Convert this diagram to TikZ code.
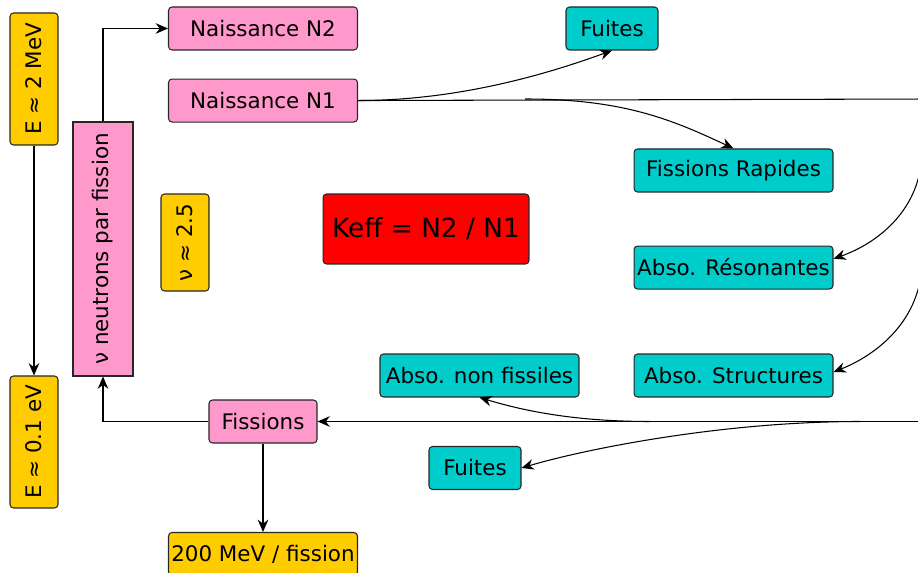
\documentclass[tikz,border=0pt]{standalone}
\usepackage{fontspec}
\setmainfont{DejaVu Sans}
\usetikzlibrary{arrows.meta,positioning}
\definecolor{pinkc}{HTML}{FF99CC}
\definecolor{cyanc}{HTML}{00CCCC}
\definecolor{yellowc}{HTML}{FFCC00}

\begin{document}
\begin{tikzpicture}[
    x=0.02cm, y=-0.02cm,
    every node/.style={draw=black!85, line width=0.6pt, rounded corners=2pt, inner xsep=0.5pt, inner ysep=2pt, font=\fontsize{12.2}{14}\selectfont},
    box/.style={minimum width=3.78cm, minimum height=0.86cm},
    naissance/.style={box, fill=pinkc},
    perte/.style={box, fill=cyanc, minimum width=3.98cm},
    energie/.style={fill=yellowc, minimum width=0.96cm},
    arrow/.style={-{Stealth[length=7pt, width=6pt]}, line width=0.6pt},
    line width=0.6pt
]
\useasboundingbox (0,0) rectangle (918,573);
\clip (0,0) rectangle (918,573);

% Left column: energies and neutrons per fission
\node[energie, minimum height=2.64cm] (E2) at (34,79) {\rotatebox{90}{E ≈ 2 MeV}};
\node[energie, minimum height=2.64cm] (E01) at (34,442) {\rotatebox{90}{E ≈ 0.1 eV}};
\node[fill=pinkc, sharp corners, minimum width=1.2cm, minimum height=5.08cm] (nuN) at (103,249) {\rotatebox{90}{ν neutrons par fission}};
\node[energie, minimum height=1.94cm] (nu) at (185,242.5) {\rotatebox{90}{ν ≈ 2.5}};

% Births and fissions
\node[naissance] (N2) at (263,28.5) {Naissance N2};
\node[naissance, below=0.56cm of N2] (N1) {Naissance N1};
\node[naissance, minimum width=2.16cm] (Fis) at (263,421.5) {Fissions};
\node[box, fill=yellowc] (Emev) at (263,554) {200 MeV / fission};
\node[fill=red, minimum width=4.12cm, minimum height=1.4cm, font=\fontsize{15}{18}\selectfont] (Keff) at (426,229) {Keff = N2 / N1};

% Losses
\node[perte, minimum width=1.84cm] (FuitesH) at (612,28.5) {Fuites};
\node[perte] (FR) at (733.5,170.5) {Fissions Rapides};
\node[perte, below=1.06cm of FR] (AR) {Abso. Résonantes};
\node[perte] (AS) at (733.5,375.5) {Abso. Structures};
\node[perte, left=1.08cm of AS] (ANF) {Abso. non fissiles};
\node[perte, minimum width=1.84cm] (FuitesB) at (475,468) {Fuites};

% Split points of the flow
\coordinate (busH) at (930,99);
\coordinate (splitF) at (525,99);
\coordinate (busR1) at (922,150);
\coordinate (busR2) at (922,260);
\coordinate (busB) at (930,421.5);
\coordinate (splitA) at (650,421.5);
\coordinate (splitB) at (860,421.5);

\draw[arrow] (E2) -- (E01);
\draw[arrow] (nuN.north) |- (N2.west);
\draw[arrow] (Fis.west) -| (nuN.south);
\draw[arrow] (Fis) -- (Emev);

\draw (N1.east) -- (busH);
\draw[arrow] (N1.east) .. controls +(110,0) and +(-50,18) .. (FuitesH.south);
\draw[arrow] (splitF) .. controls +(100,0) and +(-60,-28) .. (FR.north);
\draw[arrow] (busR1) .. controls +(0,60) and +(43,-15) .. ([yshift=5pt]AR.east);
\draw[arrow] (busR2) .. controls +(0,60) and +(43,-17) .. ([yshift=2pt]AS.east);

\draw[arrow] (busB) -- (Fis.east);
\draw[arrow] (splitA) .. controls +(-80,0) and +(40,12) .. (ANF.south);
\draw[arrow] (splitB) .. controls +(-140,0) and +(60,-18) .. (FuitesB.east);
\end{tikzpicture}
\end{document}
